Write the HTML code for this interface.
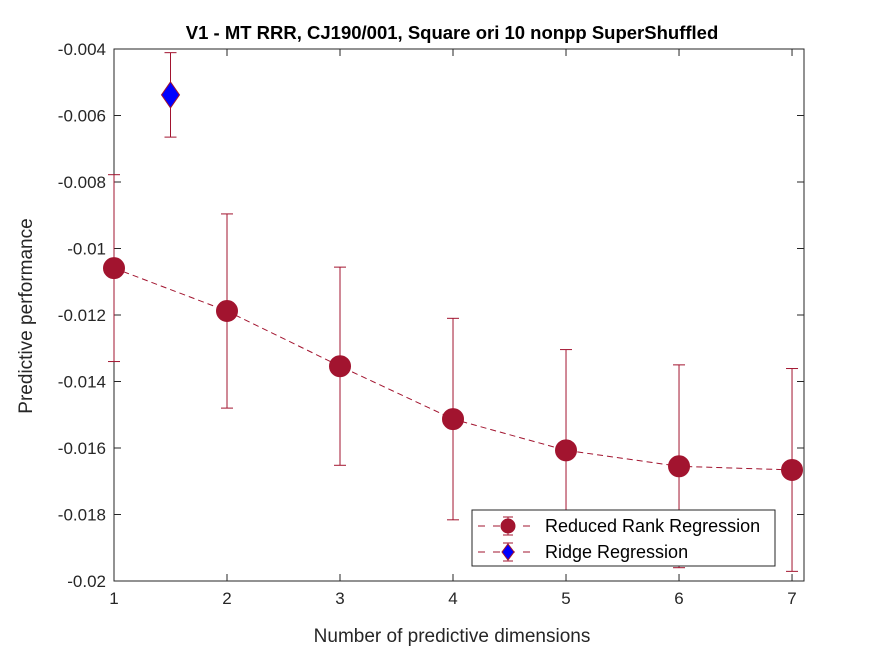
<!DOCTYPE html>
<html><head><meta charset="utf-8"><style>
body{margin:0;background:#fff;}
text{font-family:"Liberation Sans",Arial,sans-serif;}
</style></head><body>
<svg id="chart" width="875" height="656" xmlns="http://www.w3.org/2000/svg">
<rect x="0" y="0" width="875" height="656" fill="#fff"/>
<g id="axes"></g>
<g id="marks"></g>
</svg>
<script>
const xCats=[1,2,3,4,5,6,7];
const rrrVals=[-0.01059,-0.01188,-0.01354,-0.01513,-0.01607,-0.01655,-0.01666];
const rrrErr=[0.00281,0.00292,0.00298,0.00303,0.00303,0.00305,0.00305];
const ridgeX=[1.5];
const ridgeVals=[-0.00538];
const ridgeErr=[0.00127];
const yTicks=[-0.02,-0.018,-0.016,-0.014,-0.012,-0.01,-0.008,-0.006,-0.004];
const yTickLabels=["-0.02","-0.018","-0.016","-0.014","-0.012","-0.01","-0.008","-0.006","-0.004"];
const xTicks=[1,2,3,4,5,6,7];

const L=114,R=804,T=49,B=581;
const xmin=1,xmax=7.106,ymin=-0.02,ymax=-0.004;
const X=v=>L+(v-xmin)/(xmax-xmin)*(R-L);
const Y=v=>B-(v-ymin)/(ymax-ymin)*(B-T);
const NS="http://www.w3.org/2000/svg";
function mk(tag,attrs,parent,txt){const e=document.createElementNS(NS,tag);for(const k in attrs)e.setAttribute(k,attrs[k]);if(txt!==undefined)e.textContent=txt;parent.appendChild(e);return e;}
const ax=document.getElementById('axes'),mg=document.getElementById('marks');
const C='#A2142F';

let box=mk('rect',{x:L,y:T,width:R-L,height:B-T,fill:'#fff',stroke:'#262626','stroke-width':1},ax);


yTicks.forEach((t,i)=>{const y=Y(t);
mk('line',{x1:L,x2:L+7,y1:y,y2:y,stroke:'#262626'},ax);
mk('line',{x1:R,x2:R-7,y1:y,y2:y,stroke:'#262626'},ax);
const tx=mk('text',{x:L-8,y:y+6,'text-anchor':'end','font-size':17,fill:'#262626'},ax,yTickLabels[i]);

});
xTicks.forEach(t=>{const x=X(t);
mk('line',{x1:x,x2:x,y1:B,y2:B-7,stroke:'#262626'},ax);
mk('line',{x1:x,x2:x,y1:T,y2:T+7,stroke:'#262626'},ax);
const tx=mk('text',{x:x,y:B+23,'text-anchor':'middle','font-size':17,fill:'#262626'},ax,String(t));

});
let t1=mk('text',{x:452,y:39,'text-anchor':'middle','font-size':18.5,'font-weight':'bold',fill:'#000'},ax,'V1 - MT RRR, CJ190/001, Square ori 10 nonpp  SuperShuffled');


let t2=mk('text',{x:452,y:642,'text-anchor':'middle','font-size':19,fill:'#262626'},ax,'Number of predictive dimensions');


let t3=mk('text',{x:32,y:316,'text-anchor':'middle','font-size':19,fill:'#262626',transform:'rotate(-90 32 316)'},ax,'Predictive performance');



const clip=mk('clipPath',{id:'pc'},mg);mk('rect',{x:L-20,y:T,width:R-L+40,height:B-T},clip);
const g=mk('g',{'clip-path':'url(#pc)'},mg);
const g2=mk('g',{},mg);
let pts=xCats.map((x,i)=>X(x)+','+Y(rrrVals[i])).join(' ');
let pl=mk('polyline',{points:pts,fill:'none',stroke:C,'stroke-width':1,'stroke-dasharray':'6,4'},g);


function ebar(x,v,e,col){const px=X(x),y1=Y(v+e),y2=Y(v-e);
mk('line',{x1:px,x2:px,y1:y1,y2:y2,stroke:col},g);
mk('line',{x1:px-6,x2:px+6,y1:y1,y2:y1,stroke:col},g);
mk('line',{x1:px-6,x2:px+6,y1:y2,y2:y2,stroke:col},g);}
xCats.forEach((x,i)=>{ebar(x,rrrVals[i],rrrErr[i],C);
const c=mk('circle',{cx:X(x),cy:Y(rrrVals[i]),r:10.5,fill:C,stroke:C},g2);

});
ridgeX.forEach((x,i)=>{ebar(x,ridgeVals[i],ridgeErr[i],C);
const px=X(x),py=Y(ridgeVals[i]);
const d=mk('polygon',{points:`${px},${py-13} ${px+9},${py} ${px},${py+13} ${px-9},${py}`,fill:'#0000FF',stroke:C},g2);

});

const lg=mk('g',{},mg);


mk('rect',{x:472,y:510,width:303,height:56,fill:'#fff',stroke:'#262626'},lg);
[[526,'rrr'],[552,'ridge']].forEach(([y,k])=>{
mk('line',{x1:478,x2:536,y1:y,y2:y,stroke:C,'stroke-dasharray':'7,8'},lg);
mk('line',{x1:508,x2:508,y1:y-9,y2:y+9,stroke:C},lg);
mk('line',{x1:503,x2:513,y1:y-9,y2:y-9,stroke:C},lg);
mk('line',{x1:503,x2:513,y1:y+9,y2:y+9,stroke:C},lg);
if(k==='rrr')mk('circle',{cx:508,cy:y,r:7,fill:C,stroke:C},lg);
else mk('polygon',{points:`508,${y-8} 514,${y} 508,${y+8} 502,${y}`,fill:'#0000FF',stroke:C},lg);
const tx=mk('text',{x:545,y:y+6,'font-size':18,fill:'#000'},lg,k==='rrr'?'Reduced Rank Regression':'Ridge Regression');

});
</script>
</body></html>
